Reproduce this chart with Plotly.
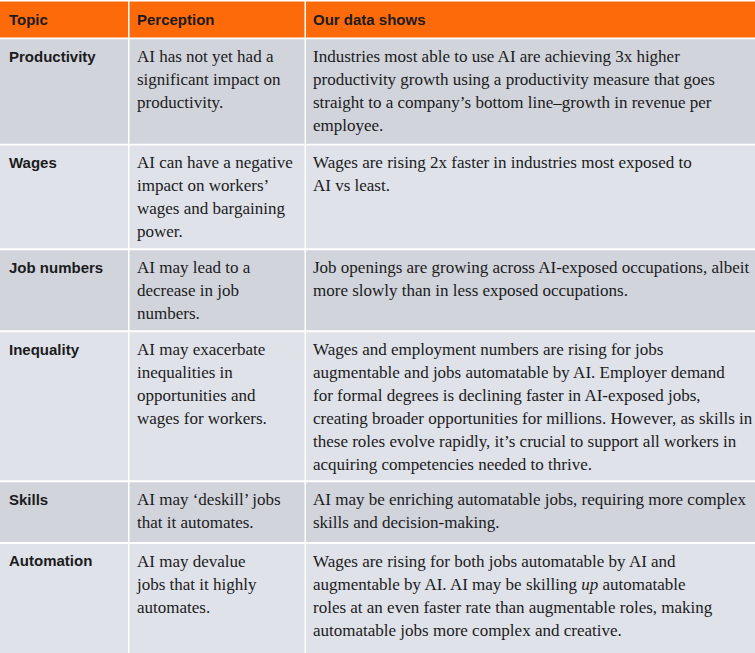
import plotly.graph_objects as go

# table content
headers = ["Topic", "Perception", "Our data shows"]

topics = ["Productivity", "Wages", "Job numbers", "Inequality", "Skills", "Automation"]

perceptions = [
    ["AI has not yet had a", "significant impact on", "productivity."],
    ["AI can have a negative", "impact on workers’", "wages and bargaining", "power."],
    ["AI may lead to a", "decrease in job", "numbers."],
    ["AI may exacerbate", "inequalities in", "opportunities and", "wages for workers."],
    ["AI may ‘deskill’ jobs", "that it automates."],
    ["AI may devalue", "jobs that it highly", "automates."],
]

findings = [
    ["Industries most able to use AI are achieving 3x higher",
     "productivity growth using a productivity measure that goes",
     "straight to a company’s bottom line–growth in revenue per",
     "employee."],
    ["Wages are rising 2x faster in industries most exposed to",
     "AI vs least."],
    ["Job openings are growing across AI-exposed occupations, albeit",
     "more slowly than in less exposed occupations."],
    ["Wages and employment numbers are rising for jobs",
     "augmentable and jobs automatable by AI. Employer demand",
     "for formal degrees is declining faster in AI-exposed jobs,",
     "creating broader opportunities for millions. However, as skills in",
     "these roles evolve rapidly, it’s crucial to support all workers in",
     "acquiring competencies needed to thrive."],
    ["AI may be enriching automatable jobs, requiring more complex",
     "skills and decision-making."],
    ["Wages are rising for both jobs automatable by AI and",
     "augmentable by AI. AI may be skilling <i>up</i> automatable",
     "roles at an even faster rate than augmentable roles, making",
     "automatable jobs more complex and creative."],
]

# layout (pixel coordinates, y grows downwards)
W, H = 755, 653
col_edges = [(0, 128), (129.5, 304.5), (306, 755)]
text_x = [9, 137, 313]
header_box = (1.5, 37.5)
header_text_y = 21
row_boxes = [(39.3, 143.8), (145.5, 248.3), (250.3, 330.3),
             (332.3, 480.3), (482.3, 542), (544, 655)]
first_line = 18.5
line_gap = 23

ORANGE = "#fd6a0a"
DARK = "#d1d4db"
LIGHT = "#dfe2e8"
INK = "#1b1b1d"
SANS = "Liberation Sans, Arial, sans-serif"
SERIF = "Liberation Serif, Times New Roman, serif"

shapes = []
for x0, x1 in col_edges:
    shapes.append(dict(type="rect", xref="x", yref="y", x0=x0, x1=x1,
                       y0=header_box[0], y1=header_box[1],
                       fillcolor=ORANGE, line_width=0, layer="below"))
    for i, (y0, y1) in enumerate(row_boxes):
        shapes.append(dict(type="rect", xref="x", yref="y", x0=x0, x1=x1,
                           y0=y0, y1=y1, fillcolor=DARK if i % 2 == 0 else LIGHT,
                           line_width=0, layer="below"))

fig = go.Figure()

# header
fig.add_trace(go.Scatter(
    x=text_x, y=[header_text_y] * 3, text=[f"<b>{h}</b>" for h in headers],
    mode="text", textposition="middle right", hoverinfo="skip",
    textfont=dict(family=SANS, size=15, color=INK),
))

# topic column
fig.add_trace(go.Scatter(
    x=[text_x[0]] * len(topics),
    y=[b[0] + first_line for b in row_boxes],
    text=[f"<b>{t}</b>" for t in topics], mode="text",
    textposition="middle right", hoverinfo="skip",
    textfont=dict(family=SANS, size=15, color=INK),
))

# serif columns
for col, cells in ((1, perceptions), (2, findings)):
    xs, ys, ts = [], [], []
    for box, lines in zip(row_boxes, cells):
        for k, line in enumerate(lines):
            xs.append(text_x[col])
            ys.append(box[0] + first_line + k * line_gap)
            ts.append(line)
    fig.add_trace(go.Scatter(
        x=xs, y=ys, text=ts, mode="text", textposition="middle right",
        hoverinfo="skip",
        textfont=dict(family=SERIF, size=17, color=INK),
    ))

fig.update_layout(
    width=W, height=H, margin=dict(l=0, r=0, t=0, b=0),
    paper_bgcolor="white", plot_bgcolor="white", showlegend=False,
    shapes=shapes,
    xaxis=dict(range=[0, W], visible=False, fixedrange=True),
    yaxis=dict(range=[H, 0], visible=False, fixedrange=True),
)

fig.write_html("out.html", config={"displayModeBar": False},
               post_script="document.body.style.margin='0';")
